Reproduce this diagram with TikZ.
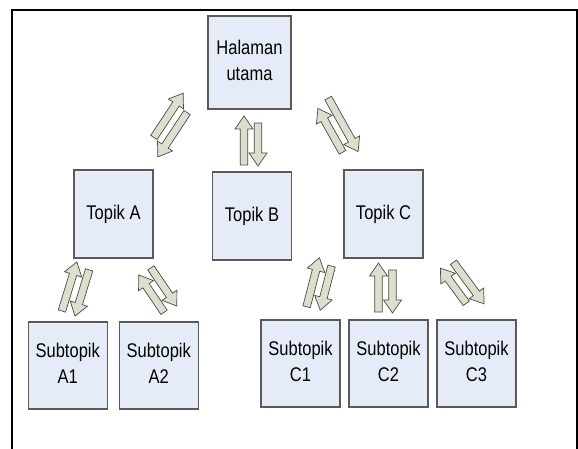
\documentclass[tikz,border=0pt]{standalone}
\usepackage{fontspec}
\setmainfont{Liberation Sans}
\usepackage{graphicx}
\usetikzlibrary{calc}
\definecolor{boxfill}{RGB}{230,236,247}
\definecolor{boxline}{RGB}{90,90,90}
\definecolor{arrfill}{RGB}{221,223,205}
\definecolor{arrline}{RGB}{75,75,75}
\newcommand\tx[1]{\scalebox{1}[1.2]{\begin{tabular}{@{}c@{}}#1\end{tabular}}}
% single block arrow from tail #1 to tip #2
\newcommand\blk[2]{%
  \coordinate (hb) at ($(#2)!13pt!(#1)$);
  \draw[barrow] ($(#1)!3.8pt!90:(#2)$) -- ($(hb)!3.8pt!90:(#2)$) -- ($(hb)!9pt!90:(#2)$) -- (#2)
    -- ($(hb)!9pt!-90:(#2)$) -- ($(hb)!3.8pt!-90:(#2)$) -- ($(#1)!3.8pt!-90:(#2)$) -- cycle;}
% pair of opposite block arrows along midline #1 (child side) -> #2 (parent side)
\newcommand\duo[4]{%
  \coordinate (m1) at ($(#1)!#3pt!(#2)$);
  \coordinate (ut) at ($(m1)!7pt!90:(#2)$);
  \coordinate (uh) at ($(#2)!7pt!-90:(#1)$);
  \coordinate (m2) at ($(#2)!#4pt!(#1)$);
  \coordinate (dt) at ($(m2)!7pt!90:(#1)$);
  \coordinate (dh) at ($(#1)!7pt!-90:(#2)$);
  \blk{ut}{uh}
  \blk{dt}{dh}}
\begin{document}
\begin{tikzpicture}[x=1pt,y=-1pt,
  box/.style={draw=boxline, line width=1.1pt, fill=boxfill, inner sep=0pt,
    minimum width=79pt, minimum height=88pt, font=\fontsize{16.5}{21}\selectfont},
  barrow/.style={draw=arrline, line width=0.7pt, fill=arrfill, line join=miter}]
\useasboundingbox (0,0) rectangle (578,449);
\draw[line width=1.8pt] (12,449) -- (12,10) -- (577,10) -- (577,449);

\node[box, minimum width=83pt, minimum height=93pt] (H) at (249.5,62.5) {\tx{Halaman\\utama}};
\node[box] (A) at (113.5,214) {\tx{Topik A}};
\node[box] (B) at (252,216) {\tx{Topik B}};
\node[box] (C) at (383.5,214) {\tx{Topik C}};
\node[box, minimum height=87pt] (A1) at (67.75,365.5) {\tx{Subtopik\\A1}};
\node[box, minimum height=87pt] (A2) at (158.75,365.5) {\tx{Subtopik\\A2}};
\node[box, minimum height=87pt] (C1) at (300.5,363.5) {\tx{Subtopik\\C1}};
\node[box, minimum height=87pt] (C2) at (388.5,363.5) {\tx{Subtopik\\C2}};
\node[box, minimum height=87pt] (C3) at (476.5,363.5) {\tx{Subtopik\\C3}};

\coordinate (HAs) at (152,153);   \coordinate (HAe) at (189,97);
\coordinate (HBs) at (251,166);   \coordinate (HBe) at (251,116);
\coordinate (HCs) at (352,155);   \coordinate (HCe) at (324,105);
\coordinate (A1s) at (68.3,314);  \coordinate (A1e) at (83.6,264);
\coordinate (A2s) at (171,310); \coordinate (A2e) at (144.5,271);
\coordinate (C1s) at (313.4,308.5); \coordinate (C1e) at (326.1,259.5);
\coordinate (C2s) at (385.5,313); \coordinate (C2e) at (385.5,263);
\coordinate (C3s) at (478.5,308); \coordinate (C3e) at (446,264);

\duo{HAs}{HAe}{14}{14}
\duo{HBs}{HBe}{1}{7}
\duo{HCs}{HCe}{7}{-4}
\duo{A1s}{A1e}{1}{4}
\duo{A2s}{A2e}{2}{1}
\duo{C1s}{C1e}{0}{5}
\duo{C2s}{C2e}{1}{7}
\duo{C3s}{C3e}{11}{3}
\end{tikzpicture}
\end{document}
